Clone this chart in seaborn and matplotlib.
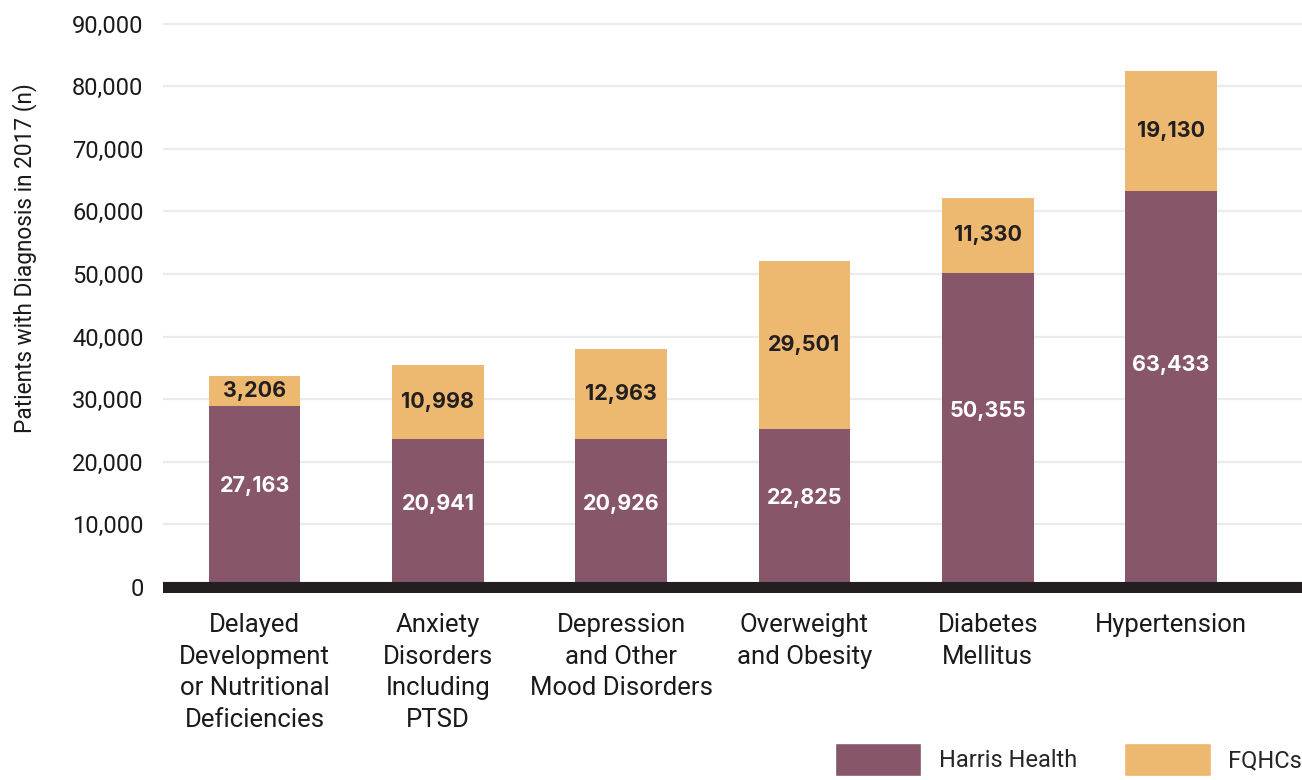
import matplotlib
matplotlib.use("Agg")
import matplotlib.pyplot as plt
import seaborn as sns
from matplotlib.patches import Patch

# Data (bar heights as drawn; printed labels as shown)
categories = [
    "Delayed\nDevelopment\nor Nutritional\nDeficiencies",
    "Anxiety\nDisorders\nIncluding\nPTSD",
    "Depression\nand Other\nMood Disorders",
    "Overweight\nand Obesity",
    "Diabetes\nMellitus",
    "Hypertension",
]
harris_values = [28900, 23600, 23600, 25300, 50200, 63300]
fqhc_values = [4800, 11850, 14400, 26800, 11950, 19150]
harris_labels = [27163, 20941, 20926, 22825, 50355, 63433]
fqhc_labels = [3206, 10998, 12963, 29501, 11330, 19130]
yticks = [0, 10000, 20000, 30000, 40000, 50000, 60000, 70000, 80000, 90000]

harris_color = "#87566B"
fqhc_color = "#EDB870"
dark = "#231F20"

sns.set_style("white")
plt.rcParams['font.family'] = ['Roboto', 'DejaVu Sans']

fig = plt.figure(figsize=(13.02, 7.8), dpi=100)
ax = fig.add_axes([0.1252, 0.2394, 0.8748, 0.7343])

totals = [h + f for h, f in zip(harris_values, fqhc_values)]
sns.barplot(x=categories, y=totals, color=fqhc_color, width=0.5, linewidth=0,
            saturation=1, errorbar=None, ax=ax, zorder=2)
sns.barplot(x=categories, y=harris_values, color=harris_color, width=0.5, linewidth=0,
            saturation=1, errorbar=None, ax=ax, zorder=2)

# value labels
for i, (h, f) in enumerate(zip(harris_values, fqhc_values)):
    ax.text(i, h * 0.56, f"{harris_labels[i]:,}", ha='center', va='center',
            color='white', fontsize=15.5, fontweight='bold', family=['Inter', 'DejaVu Sans'], zorder=3)
    ax.text(i, h + f / 2, f"{fqhc_labels[i]:,}", ha='center', va='center',
            color=dark, fontsize=15.5, fontweight='bold', family=['Inter', 'DejaVu Sans'], zorder=3)

ax.set_xlim(-0.5, 5.715)
ax.set_ylim(-1000, 90500)
ax.set_yticks(yticks)
ax.set_yticklabels([f"{v:,}" for v in yticks])
ax.yaxis.grid(True, color='#EBEBEB', linewidth=1.6, zorder=0)
ax.set_axisbelow(True)
ax.axhline(0, color=dark, linewidth=8, zorder=4)
for s in ax.spines.values():
    s.set_visible(False)

ax.tick_params(axis='y', length=0, pad=14, labelsize=17, labelcolor='#1a1a1a')
ax.tick_params(axis='x', length=0, pad=14.5, labelsize=18.5, labelcolor='#1a1a1a')
for lab in ax.get_xticklabels():
    lab.set_linespacing(1.39)
ax.set_xlabel("")
ax.set_ylabel("Patients with Diagnosis in 2017 (n)", fontsize=16.3, color='#1a1a1a')
ax.yaxis.set_label_coords(-0.111, 0.585)

handles = [Patch(facecolor=harris_color, label="Harris Health"),
           Patch(facecolor=fqhc_color, label="FQHCs")]
fig.legend(handles=handles, loc='upper left', bbox_to_anchor=(835 / 1302, 1 - 743 / 780),
           ncol=2, frameon=False, fontsize=17, handlelength=3.65, handleheight=1.8,
           handletextpad=0.75, columnspacing=2.0, borderpad=0, borderaxespad=0)

fig.savefig("out.png", dpi=100)
